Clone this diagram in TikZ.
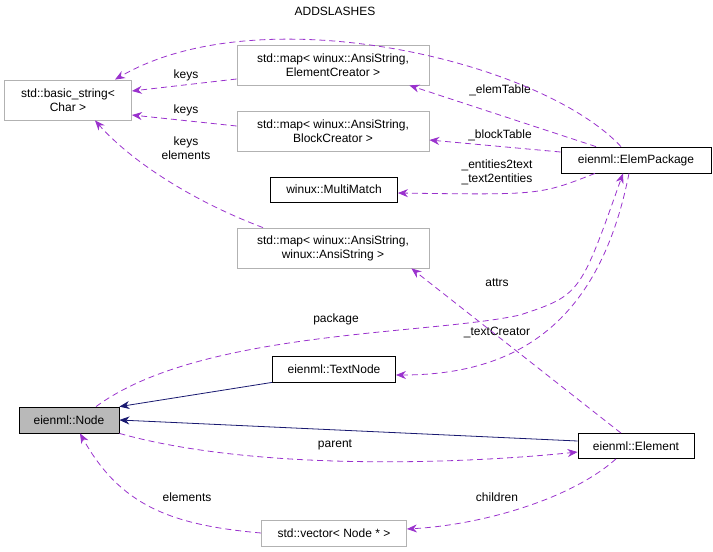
\documentclass[tikz,border=0pt]{standalone}
\usepackage{fontspec}
\setmainfont{Liberation Sans}
\usetikzlibrary{arrows.meta}
\begin{document}
\begin{tikzpicture}[x=1pt, y=-1pt, font=\fontsize{12}{14}\selectfont]
\tikzstyle{cls_style} = [draw=gray!60, line width=0.8pt, inner sep=2pt, minimum height=26pt]
\tikzstyle{two_style} = [cls_style, align=center, minimum width=192pt, minimum height=40pt]
\tikzstyle{use_style} = [draw={rgb,255:red,154;green,50;blue,205}, line width=0.8pt, dash pattern=on 6pt off 4pt, -{Stealth[length=10pt,width=8pt]}]
\tikzstyle{inh_style} = [draw={rgb,255:red,25;green,25;blue,112}, line width=0.8pt, -{Stealth[length=10pt,width=8pt]}]
\tikzstyle{lbl_style} = [inner sep=0pt, align=center]
\useasboundingbox (0,0) rectangle (713,552);

\node[cls_style, align=center, minimum width=127pt, minimum height=40pt] (bstr) at (68,100) {std::basic\_string<\\Char >};
\node[two_style] (mapelem) at (333,65) {std::map< winux::AnsiString,\\ElementCreator >};
\node[two_style] (mapblock) at (333,131) {std::map< winux::AnsiString,\\BlockCreator >};
\node[cls_style, draw=black, minimum width=127pt, minimum height=25pt] (multi) at (334,189.5) {winux::MultiMatch};
\node[two_style] (mapstr) at (333,248) {std::map< winux::AnsiString,\\winux::AnsiString >};
\node[cls_style, draw=black, minimum width=150pt] (pkg) at (636,160) {eienml::ElemPackage};
\node[cls_style, draw=black, minimum width=123pt] (text) at (334,369) {eienml::TextNode};
\node[cls_style, draw=black, fill=gray!55, minimum width=100pt] (node) at (69,420) {eienml::Node};
\node[cls_style, draw=black, minimum width=116pt, minimum height=25pt] (elem) at (636,446) {eienml::Element};
\node[cls_style, minimum width=145pt] (vec) at (334,533) {std::vector< Node * >};

% edge labels
\node[lbl_style] (l_add) at (335,11) {ADDSLASHES};
\node[lbl_style] (l_keys1) at (186,75) {keys};
\node[lbl_style] (l_keys2) at (186,110) {keys};
\node[lbl_style] (l_keys3) at (186,148) {keys\\elements};
\node[lbl_style] (l_elemt) at (500,90) {\_elemTable};
\node[lbl_style] (l_blockt) at (500,135) {\_blockTable};
\node[lbl_style] (l_ent) at (497,172) {\_entities2text\\\_text2entities};
\node[lbl_style] (l_attrs) at (497,283) {attrs};
\node[lbl_style] (l_pkg) at (336,319) {package};
\node[lbl_style] (l_textc) at (497,332) {\_textCreator};
\node[lbl_style] (l_parent) at (335,445) {parent};
\node[lbl_style] (l_elems) at (187,497) {elements};
\node[lbl_style] (l_child) at (497,497) {children};

\draw[use_style] ([xshift=-15pt]pkg.north) .. controls (540,60) and (260,-5) .. ([xshift=47pt]bstr.north);
\draw[use_style] (mapelem.west |- 0,79) -- (bstr.east |- 0,91);
\draw[use_style] (mapblock.west |- 0,126) -- (bstr.east |- 0,115);
\draw[use_style] ([xshift=-70pt]mapstr.north) .. controls (190,200) and (130,160) .. ([xshift=27pt]bstr.south);
\draw[use_style] ([xshift=-40pt]pkg.north) -- ([xshift=-20pt]mapelem.south east);
\draw[use_style] (pkg.west |- 0,152) -- (mapblock.east |- 0,140);
\draw[use_style] ([xshift=-41pt]pkg.south) .. controls (540,195) .. (multi.east |- 0,193);
\draw[use_style] ([xshift=27pt]node.north) .. controls (200,330) and (430,335) .. (520,315) .. controls (580,295) .. ([xshift=-13pt]pkg.south);
\draw[use_style] ([xshift=-7pt]pkg.south) .. controls (600,320) and (520,375) .. (text.east |- 0,375);
\draw[use_style] ([xshift=-15pt]elem.north) -- ([xshift=-18pt]mapstr.south east);
\draw[inh_style] (text.south west) -- (node.north east);
\draw[inh_style] (elem.west |- 0,441) -- (node.east);
\draw[use_style] (node.south east) .. controls (250,470) and (450,465) .. (elem.west |- 0,452);
\draw[use_style] (vec.west) .. controls (170,525) and (120,505) .. ([xshift=11pt]node.south);
\draw[use_style] ([xshift=-20pt]elem.south) .. controls (570,500) and (480,525) .. (vec.east |- 0,529);
\end{tikzpicture}
\end{document}
